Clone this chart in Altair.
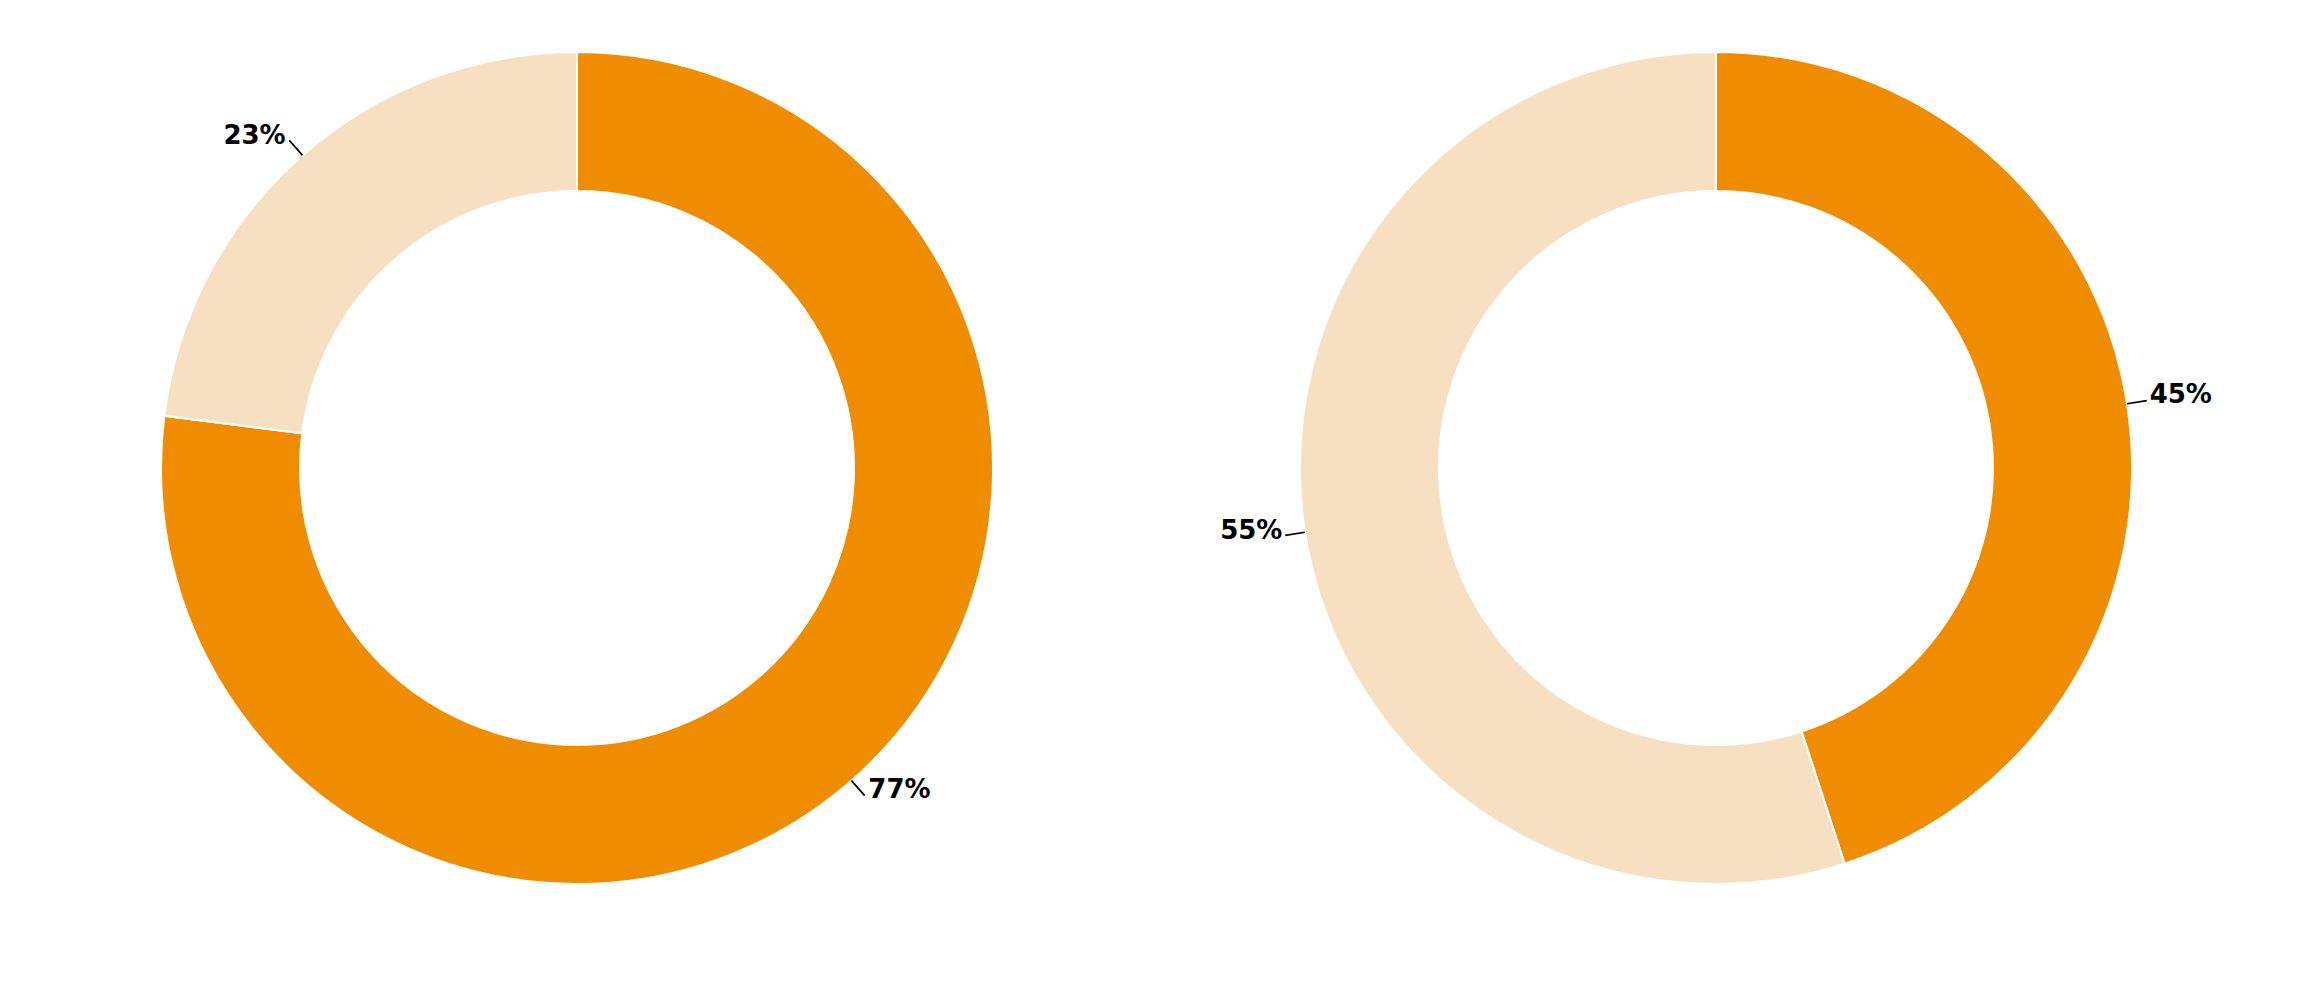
import altair as alt
import pandas as pd

categories = ["Share", "Remainder"]
values_left = [77, 23]
values_right = [45, 55]
colors = ["#EF8C00", "#F7E0C1"]


def donut(values, w, h):
    df = pd.DataFrame({"category": categories, "value": values, "idx": list(range(len(values)))})
    df["label"] = [f"{v}%" for v in values]
    base = (
        alt.Chart(df)
        .transform_joinaggregate(total="sum(value)")
        .transform_window(cum="sum(value)", sort=[alt.SortField("idx")])
        .transform_calculate(
            start="(datum.cum - datum.value) / datum.total * 2 * PI",
            end="datum.cum / datum.total * 2 * PI",
            mid="(datum.cum - datum.value / 2) / datum.total * 2 * PI",
            mid2="(datum.cum - datum.value / 2) / datum.total * 2 * PI + 0.004",
        )
    )
    arcs = base.mark_arc(radius=416, radius2=277, stroke="white", strokeWidth=2).encode(
        theta=alt.Theta("start:Q", scale=None),
        theta2="end:Q",
        color=alt.Color("category:N", scale=alt.Scale(domain=categories, range=colors), legend=None),
    )
    leaders = base.mark_arc(radius=436, radius2=416, color="black").encode(
        theta=alt.Theta("mid:Q", scale=None),
        theta2="mid2:Q",
    )
    text_style = dict(radius=436, fontSize=26, fontWeight="bold", font="DejaVu Sans",
                      color="black", baseline="alphabetic", dy=3)
    labels_right = base.transform_filter("sin(datum.mid) >= 0").mark_text(
        align="left", dx=3, **text_style
    ).encode(theta=alt.Theta("mid:Q", scale=None), text="label:N")
    labels_left = base.transform_filter("sin(datum.mid) < 0").mark_text(
        align="right", dx=-3, **text_style
    ).encode(theta=alt.Theta("mid:Q", scale=None), text="label:N")
    return alt.layer(arcs, leaders, labels_right, labels_left).properties(width=w, height=h)


chart = (
    alt.hconcat(donut(values_left, 1138, 920), donut(values_right, 1140, 920), spacing=0)
    .properties(padding=0)
    .configure_view(stroke=None)
)

chart.save("out.html", embed_options={"renderer": "svg", "actions": False})
